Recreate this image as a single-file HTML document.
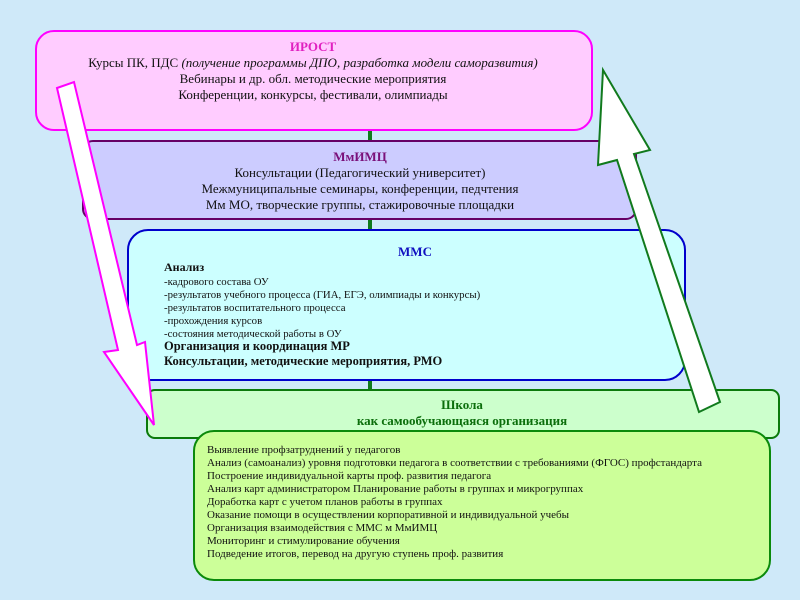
<!DOCTYPE html>
<html><head><meta charset="utf-8"><style>
html,body{margin:0;padding:0;background:#cfe9f9;}
svg{display:block;font-family:"Liberation Serif","Noto Serif CJK SC",serif;}
</style></head><body>
<svg width="800" height="600" viewBox="0 0 800 600" xmlns="http://www.w3.org/2000/svg">
<rect width="800" height="600" fill="#cfe9f9"/>
<line x1="370" y1="128" x2="370" y2="395" stroke="#117a1d" stroke-width="4"/>
<rect x="36" y="31" width="556" height="99" rx="18" fill="#ffccff" stroke="#ff00ff" stroke-width="2"/>
<rect x="83" y="141" width="553" height="78" rx="10" fill="#ccccff" stroke="#660066" stroke-width="2"/>
<rect x="128" y="230" width="557" height="150" rx="20" fill="#ccffff" stroke="#0000cc" stroke-width="2"/>
<rect x="147" y="390" width="632" height="48" rx="8" fill="#ccffcc" stroke="#0b7a0b" stroke-width="2"/>
<!-- pink arrow -->
<polygon points="57,88 74,82 137,345 145,342 154,425 104,352 118,350" fill="#ffffff" stroke="#ff00ff" stroke-width="2"/>
<!-- green arrow -->
<polygon points="603,70 650,150 634,154 720,402 699,412 617,160 598,165" fill="#ffffff" stroke="#117a1d" stroke-width="2"/>
<rect x="194" y="431" width="576" height="149" rx="20" fill="#ccff99" stroke="#0b8a0b" stroke-width="2"/>
<g text-anchor="middle" font-size="13">
<text x="313" y="51" fill="#e020c0" font-weight="bold">ИРОСТ</text>
<text x="313" y="67" fill="#111">Курсы ПК, ПДС <tspan font-style="italic">(получение программы ДПО, разработка модели саморазвития)</tspan></text>
<text x="313" y="83" fill="#111">Вебинары и др. обл. методические мероприятия</text>
<text x="313" y="99" fill="#111">Конференции, конкурсы, фестивали, олимпиады</text>
<text x="360" y="161" fill="#7a107a" font-weight="bold">МмИМЦ</text>
<text x="360" y="177" fill="#111">Консультации (Педагогический университет)</text>
<text x="360" y="193" fill="#111">Межмуниципальные семинары, конференции, педчтения</text>
<text x="360" y="209" fill="#111">Мм МО, творческие группы, стажировочные площадки</text>
<text x="415" y="256" fill="#1010c0" font-weight="bold">ММС</text>
<text x="462" y="409" fill="#0b6e0b" font-weight="bold">Школа</text>
<text x="462" y="425" fill="#0b6e0b" font-weight="bold">как самообучающаяся организация</text>
</g>
<g font-size="10.8" fill="#111">
<text x="164" y="271" font-weight="bold" font-size="12">Анализ</text>
<text x="164" y="285">-кадрового состава ОУ</text>
<text x="164" y="298">-результатов учебного процесса (ГИА, ЕГЭ, олимпиады и конкурсы)</text>
<text x="164" y="311">-результатов воспитательного процесса</text>
<text x="164" y="324">-прохождения курсов</text>
<text x="164" y="337">-состояния методической работы в ОУ</text>
<text x="164" y="350" font-weight="bold" font-size="12.5">Организация и координация МР</text>
<text x="164" y="365" font-weight="bold" font-size="12.5">Консультации, методические мероприятия, РМО</text>
</g>
<g font-size="11" fill="#111">
<text x="207" y="453">Выявление профзатруднений у педагогов</text>
<text x="207" y="466">Анализ (самоанализ) уровня подготовки педагога в соответствии с требованиями (ФГОС) профстандарта</text>
<text x="207" y="479">Построение индивидуальной карты проф. развития педагога</text>
<text x="207" y="492">Анализ карт администратором Планирование работы в группах и микрогруппах</text>
<text x="207" y="505">Доработка карт с учетом планов работы в группах</text>
<text x="207" y="518">Оказание помощи в осуществлении корпоративной и индивидуальной учебы</text>
<text x="207" y="531">Организация взаимодействия с ММС м МмИМЦ</text>
<text x="207" y="544">Мониторинг и стимулирование обучения</text>
<text x="207" y="557">Подведение итогов, перевод на другую ступень проф. развития</text>
</g>
</svg>
</body></html>
